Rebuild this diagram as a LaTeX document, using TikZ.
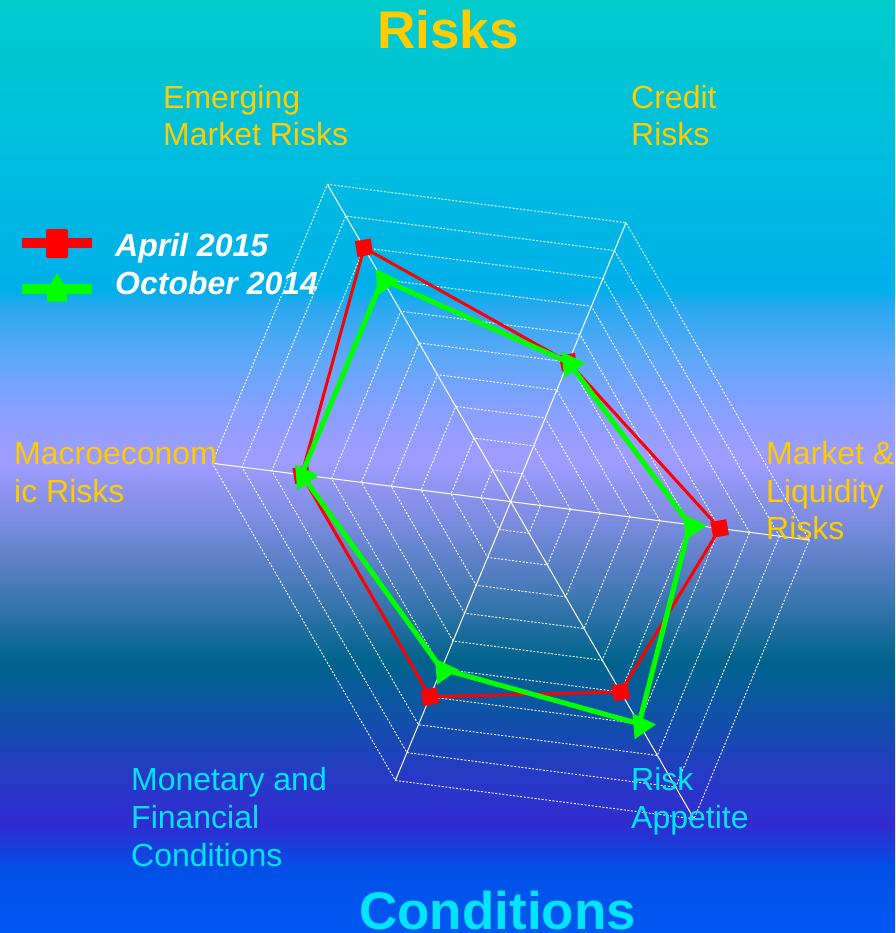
\documentclass[tikz,border=0pt]{standalone}
\usepackage{fontspec}
\setmainfont{Liberation Sans}
\usetikzlibrary{calc,shapes.geometric}
\definecolor{s0}{RGB}{0,204,204}
\definecolor{s1}{RGB}{0,190,222}
\definecolor{s2}{RGB}{0,176,234}
\definecolor{s3}{RGB}{40,168,240}
\definecolor{s4}{RGB}{96,168,248}
\definecolor{s5}{RGB}{136,160,255}
\definecolor{s6}{RGB}{160,156,255}
\definecolor{s7}{RGB}{124,140,224}
\definecolor{s8}{RGB}{60,118,176}
\definecolor{s9}{RGB}{0,100,140}
\definecolor{s10}{RGB}{16,80,170}
\definecolor{s11}{RGB}{40,56,200}
\definecolor{s12}{RGB}{48,44,208}
\definecolor{s13}{RGB}{0,80,232}
\definecolor{s14}{RGB}{0,88,240}
\definecolor{gold}{RGB}{255,204,0}
\definecolor{cyanlab}{RGB}{0,228,255}
\definecolor{serred}{RGB}{255,0,0}
\definecolor{sergreen}{RGB}{0,255,0}
\pgfdeclareverticalshading{bgshade}{100bp}{color(0bp)=(s14); color(25bp)=(s14); color(28.38bp)=(s13); color(30.79bp)=(s12); color(33.2bp)=(s11); color(36.41bp)=(s10); color(39.63bp)=(s9); color(42.84bp)=(s8); color(47.13bp)=(s7); color(50.35bp)=(s6); color(53.03bp)=(s5); color(55.71bp)=(s4); color(58.65bp)=(s3); color(59.46bp)=(s2); color(66.96bp)=(s1); color(75bp)=(s0); color(100bp)=(s0)}
\begin{document}
\begin{tikzpicture}[x=1pt,y=-1pt,
  ring/.style={white,line width=0.9pt,dash pattern=on 2pt off 1.6pt},
  axisline/.style={white,line width=1pt},
  redline/.style={serred,line width=3pt,line join=miter},
  greenline/.style={sergreen,line width=5pt,line join=miter},
  redmark/.style={fill=serred,rectangle,minimum size=16pt,inner sep=0pt,rotate=10},
  greenmark/.style={fill=sergreen,regular polygon,regular polygon sides=3,shape border rotate=-85,minimum size=30pt,inner sep=0pt},
  lab/.style={anchor=base west,inner sep=0pt,font=\fontsize{32}{38}\selectfont},
  goldlab/.style={lab,text=gold},
  cyanl/.style={lab,text=cyanlab},
  legtext/.style={anchor=base west,inner sep=0pt,text=white,font=\fontsize{32}{38}\selectfont\bfseries\itshape},
  title/.style={anchor=base west,inner sep=0pt,font=\fontsize{53}{60}\selectfont\bfseries}]
\useasboundingbox (0,0) rectangle (895,933);
\shade[shading=bgshade] (0,0) rectangle (895,933);
% geometry
\coordinate (C) at (510.7,501.6);
\coordinate (V0) at (809.3,540.0);
\coordinate (V1) at (626.0,222.7);
\coordinate (V2) at (327.4,184.3);
\coordinate (V3) at (212.1,463.2);
\coordinate (V4) at (395.4,780.5);
\coordinate (V5) at (694.0,818.9);
% rings
\foreach \i in {1,...,10}{
  \pgfmathsetmacro\rr{\i/10}
  \draw[ring] ($(C)!\rr!(V0)$) -- ($(C)!\rr!(V1)$) -- ($(C)!\rr!(V2)$) -- ($(C)!\rr!(V3)$) -- ($(C)!\rr!(V4)$) -- ($(C)!\rr!(V5)$) -- cycle;
}
% axes
\foreach \k in {0,...,5}{ \draw[axisline] (C) -- (V\k); }
% data points
\foreach \k/\v in {0/0.7,1/0.5,2/0.8,3/0.7,4/0.7,5/0.6}{ \coordinate (R\k) at ($(C)!\v!(V\k)$); }
\foreach \k/\v in {0/0.6,1/0.5,2/0.7,3/0.7,4/0.6,5/0.7}{ \coordinate (G\k) at ($(C)!\v!(V\k)$); }
\draw[redline] (R0) -- (R1) -- (R2) -- (R3) -- (R4) -- (R5) -- cycle;
\foreach \k in {0,...,5}{ \node[redmark] (rm\k) at (R\k) {}; }
\draw[greenline] (G0) -- (G1) -- (G2) -- (G3) -- (G4) -- (G5) -- cycle;
\foreach \k in {0,...,5}{ \node[greenmark] (gm\k) at ($(G\k)+(2,2)$) {}; }
% legend
\coordinate (lr1) at (22,243);
\coordinate (lr2) at (92,243);
\draw[serred,line width=10.5pt] (lr1) -- (lr2);
\node[fill=serred,rectangle,rounded corners=2pt,minimum width=22pt,minimum height=29pt,inner sep=0pt] (lrm) at (57,243.5) {};
\coordinate (lg1) at (22,289);
\coordinate (lg2) at (92,289);
\draw[sergreen,line width=10.5pt] (lg1) -- (lg2);
\coordinate (lgm) at (57,289);
\fill[sergreen,rounded corners=1pt] ($(lgm)+(0,-16)$) -- ($(lgm)+(10,1)$) -- ($(lgm)+(10,12.5)$) -- ($(lgm)+(-10,12.5)$) -- ($(lgm)+(-10,1)$) -- cycle;
\node[legtext] (l1) at (115,256) {April 2015};
\node[legtext] (l2) at (115,294) {October 2014};
% titles
\node[title,text=gold] (tr) at (377,49) {Risks};
\node[title,text=cyanlab] (tc) at (359,929) {Conditions};
% axis labels
\node[goldlab] (e1) at (163,109) {Emerging};
\node[goldlab] (e2) at (163,146) {Market Risks};
\node[goldlab] (c1) at (631,109) {Credit};
\node[goldlab] (c2) at (631,146) {Risks};
\node[goldlab] (m1) at (766,464) {Market \&};
\node[goldlab] (m2) at (766,502) {Liquidity};
\node[goldlab] (m3) at (766,539) {Risks};
\node[goldlab] (a1) at (14,464) {Macroeconom};
\node[goldlab] (a2) at (14,502) {ic Risks};
\node[cyanl] (f1) at (131,790) {Monetary and};
\node[cyanl] (f2) at (131,828) {Financial};
\node[cyanl] (f3) at (131,866) {Conditions};
\node[cyanl] (r1) at (631,790) {Risk};
\node[cyanl] (r2) at (631,828) {Appetite};
\end{tikzpicture}
\end{document}
